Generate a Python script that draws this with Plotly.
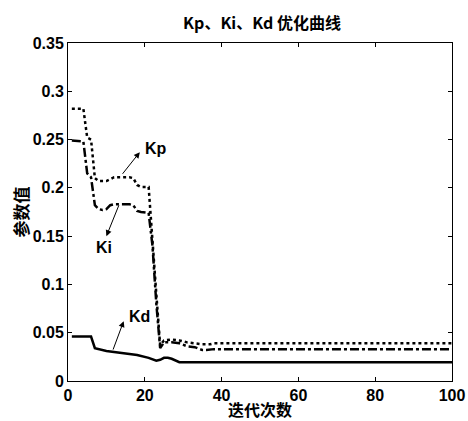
import plotly.graph_objects as go

# Iterations (breakpoints) and parameter values
kp_iter = [1, 4, 5, 6, 7, 8, 10, 12, 16, 17, 18, 19, 21, 22, 23, 24, 25, 27, 29, 31, 33, 35, 37, 38, 100]
kp_vals = [0.282, 0.282, 0.252, 0.250, 0.210, 0.207, 0.207, 0.211, 0.211, 0.210, 0.203, 0.201, 0.201, 0.140,
           0.090, 0.037, 0.042, 0.043, 0.042, 0.040, 0.039, 0.038, 0.038, 0.039, 0.039]

ki_iter = [1, 4, 5, 6, 7, 8, 9, 10, 11, 12, 16, 17, 18, 19, 21, 22, 23, 24, 25, 27, 29, 31, 33, 35, 36, 38, 100]
ki_vals = [0.249, 0.248, 0.215, 0.211, 0.182, 0.178, 0.177, 0.178, 0.182, 0.183, 0.183, 0.182, 0.176, 0.175,
           0.174, 0.140, 0.080, 0.034, 0.040, 0.040, 0.039, 0.036, 0.035, 0.032, 0.032, 0.033, 0.033]

kd_iter = [1, 6, 7, 10, 14, 18, 21, 23, 24, 25, 26, 27, 29, 100]
kd_vals = [0.046, 0.046, 0.034, 0.031, 0.029, 0.027, 0.024, 0.021, 0.022, 0.024, 0.024, 0.023, 0.0195, 0.0195]

x_ticks = [0, 20, 40, 60, 80, 100]
y_ticks = [0, 0.05, 0.1, 0.15, 0.2, 0.25, 0.3, 0.35]
y_tick_labels = ["0", "0.05", "0.1", "0.15", "0.2", "0.25", "0.3", "0.35"]

FONT = "Liberation Sans, Arial, sans-serif"
CJK = "Noto Sans CJK SC, sans-serif"

fig = go.Figure()
fig.add_trace(go.Scatter(x=kp_iter, y=kp_vals, mode="lines", name="Kp",
                         line=dict(color="black", width=2.5, dash="dot")))
fig.add_trace(go.Scatter(x=ki_iter, y=ki_vals, mode="lines", name="Ki",
                         line=dict(color="black", width=2.5, dash="dashdot")))
fig.add_trace(go.Scatter(x=kd_iter, y=kd_vals, mode="lines", name="Kd",
                         line=dict(color="black", width=2.5)))

axis_common = dict(showline=True, linecolor="black", linewidth=1, mirror="ticks",
                   ticks="inside", ticklen=4, tickcolor="black", showgrid=False, zeroline=False,
                   automargin=False,
                   tickfont=dict(family=FONT, size=16, color="black", weight="bold"))

fig.update_xaxes(range=[0, 100], tickvals=x_ticks, **axis_common)
fig.update_yaxes(range=[0, 0.35], tickvals=y_ticks, ticktext=y_tick_labels, **axis_common)

fig.update_layout(
    width=468, height=421,
    margin=dict(l=68, r=16, t=43, b=40, autoexpand=False),
    paper_bgcolor="white", plot_bgcolor="white",
    showlegend=False,
    title=dict(text="Kp、Ki、Kd 优化曲线", x=262 / 468, xanchor="center", y=1 - 23 / 421, yanchor="middle",
               font=dict(family=CJK, size=16, color="black", weight="bold")),
)

cjk_font = dict(family=CJK, size=17, color="black", weight="bold")
fig.add_annotation(x=0.5, y=0, xref="paper", yref="paper", yshift=-28, text="迭代次数", showarrow=False,
                   font=dict(family=CJK, size=16, color="black", weight="bold"),
                   xanchor="center", yanchor="middle")
fig.add_annotation(x=0, y=0.5, xref="paper", yref="paper", xshift=-48.5, text="参数值", showarrow=False,
                   font=cjk_font, textangle=-90, xanchor="center", yanchor="middle")

ann_font = dict(family=FONT, size=16, color="black", weight="bold")
# Kp
fig.add_annotation(x=18.7, y=0.237, ax=13.9, ay=0.213, xref="x", yref="y", axref="x", ayref="y",
                   text="", showarrow=True, arrowhead=2, arrowsize=1.2, arrowwidth=1, arrowcolor="black")
fig.add_annotation(x=22.8, y=0.241, xref="x", yref="y", text="Kp", showarrow=False, font=ann_font)
# Ki
fig.add_annotation(x=10, y=0.150, ax=13.4, ay=0.1835, xref="x", yref="y", axref="x", ayref="y",
                   text="", showarrow=True, arrowhead=2, arrowsize=1.2, arrowwidth=1, arrowcolor="black")
fig.add_annotation(x=9.5, y=0.138, xref="x", yref="y", text="Ki", showarrow=False, font=ann_font)
# Kd
fig.add_annotation(x=14.5, y=0.062, ax=11.6, ay=0.031, xref="x", yref="y", axref="x", ayref="y",
                   text="", showarrow=True, arrowhead=2, arrowsize=1.2, arrowwidth=1, arrowcolor="black")
fig.add_annotation(x=18.6, y=0.067, xref="x", yref="y", text="Kd", showarrow=False, font=ann_font)

fig.write_html("out.html", config={"displayModeBar": False},
               post_script="document.body.style.margin='0';document.body.style.overflow='hidden';")
